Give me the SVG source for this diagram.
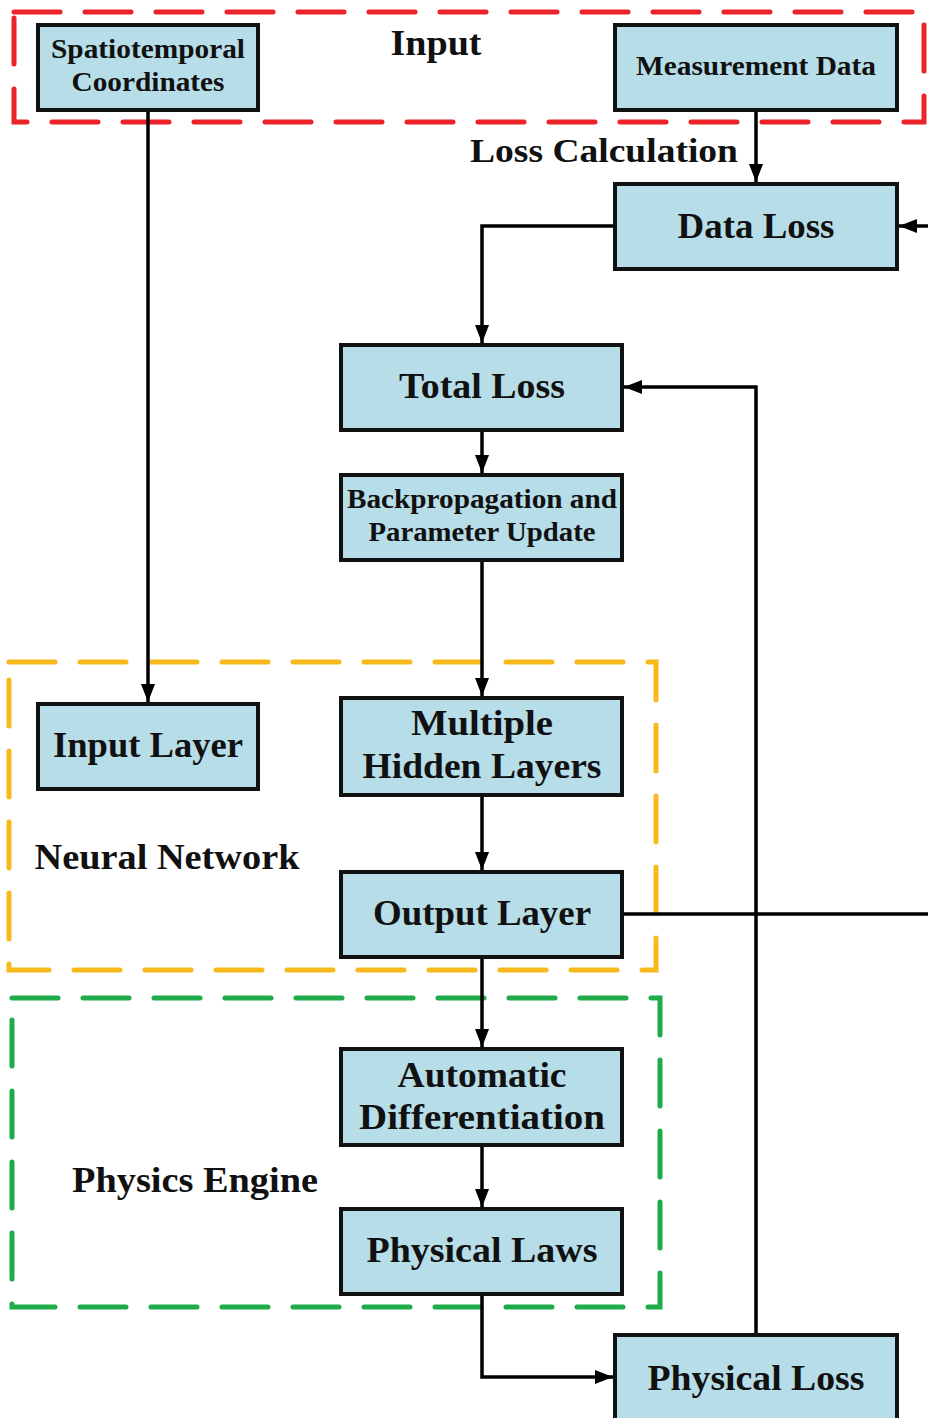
<svg xmlns="http://www.w3.org/2000/svg" width="928" height="1418" viewBox="0 0 928 1418">
  <defs>
    <marker id="arrow" viewBox="0 0 18 14" refX="18" refY="7" markerWidth="18" markerHeight="14" markerUnits="userSpaceOnUse" orient="auto">
      <path d="M0,0 L18,7 L0,14 z" fill="#000"/>
    </marker>
    <style>
      .box { fill: #b7dde8; stroke: #111; stroke-width: 4; }
      .t { font-family: "Liberation Serif", "Times New Roman", serif; font-weight: bold; fill: #111; text-anchor: middle; }
      .lg { font-size: 36px; }
      .sm { font-size: 27px; }
      .grp { fill: none; stroke-width: 5; stroke-dasharray: 46 25; stroke-linecap: round; }
      .edge { fill: none; stroke: #000; stroke-width: 3.5; }
    </style>
  </defs>
  <rect width="928" height="1418" fill="#fff"/>

  <!-- group frames -->
  <g id="frames">
    <rect class="grp" x="14" y="12" width="910" height="110" stroke="#ec2328"/>
    <rect class="grp" x="9" y="662" width="647" height="308" stroke="#f8b91c"/>
    <rect class="grp" x="12" y="998" width="648" height="309" stroke="#1fab4a"/>
  </g>

  <!-- frame labels -->
  <g id="labels">
    <text class="t lg" x="436" y="55" textLength="91" lengthAdjust="spacingAndGlyphs">Input</text>
    <text class="t" x="604" y="162" font-size="34" textLength="268" lengthAdjust="spacingAndGlyphs">Loss Calculation</text>
    <text class="t lg" x="167" y="869" textLength="265" lengthAdjust="spacingAndGlyphs">Neural Network</text>
    <text class="t lg" x="195" y="1192" textLength="246" lengthAdjust="spacingAndGlyphs">Physics Engine</text>
  </g>

  <!-- connectors -->
  <g id="connectors">
    <path class="edge" d="M148,110 V702" marker-end="url(#arrow)"/>
    <path class="edge" d="M756,110 V182" marker-end="url(#arrow)"/>
    <path class="edge" d="M615,226 H482 V343" marker-end="url(#arrow)"/>
    <path class="edge" d="M482,430 V473" marker-end="url(#arrow)"/>
    <path class="edge" d="M482,560 V696" marker-end="url(#arrow)"/>
    <path class="edge" d="M482,795 V870" marker-end="url(#arrow)"/>
    <path class="edge" d="M622,914 H928"/>
    <path class="edge" d="M928,226 H899" marker-end="url(#arrow)"/>
    <path class="edge" d="M482,957 V1047" marker-end="url(#arrow)"/>
    <path class="edge" d="M482,1145 V1207" marker-end="url(#arrow)"/>
    <path class="edge" d="M482,1294 V1377 H613" marker-end="url(#arrow)"/>
    <path class="edge" d="M756,1335 V387 H624" marker-end="url(#arrow)"/>
  </g>

  <!-- nodes -->
  <g id="spatiotemporal">
    <rect class="box" x="38" y="25" width="220" height="85"/>
    <text class="t sm" x="148" y="58" textLength="194" lengthAdjust="spacingAndGlyphs">Spatiotemporal</text>
    <text class="t sm" x="148" y="91" textLength="153" lengthAdjust="spacingAndGlyphs">Coordinates</text>
  </g>
  <g id="measurement">
    <rect class="box" x="615" y="25" width="282" height="85"/>
    <text class="t sm" x="756" y="75" textLength="240" lengthAdjust="spacingAndGlyphs">Measurement Data</text>
  </g>
  <g id="data-loss">
    <rect class="box" x="615" y="184" width="282" height="85"/>
    <text class="t lg" x="756" y="238" textLength="157" lengthAdjust="spacingAndGlyphs">Data Loss</text>
  </g>
  <g id="total-loss">
    <rect class="box" x="341" y="345" width="281" height="85"/>
    <text class="t lg" x="482" y="398" textLength="166" lengthAdjust="spacingAndGlyphs">Total Loss</text>
  </g>
  <g id="backprop">
    <rect class="box" x="341" y="475" width="281" height="85"/>
    <text class="t sm" x="482" y="508" textLength="270" lengthAdjust="spacingAndGlyphs">Backpropagation and</text>
    <text class="t sm" x="482" y="541" textLength="227" lengthAdjust="spacingAndGlyphs">Parameter Update</text>
  </g>
  <g id="input-layer">
    <rect class="box" x="38" y="704" width="220" height="85"/>
    <text class="t lg" x="148" y="757" textLength="190" lengthAdjust="spacingAndGlyphs">Input Layer</text>
  </g>
  <g id="hidden-layers">
    <rect class="box" x="341" y="698" width="281" height="97"/>
    <text class="t lg" x="482" y="735" textLength="142" lengthAdjust="spacingAndGlyphs">Multiple</text>
    <text class="t lg" x="482" y="778" textLength="239" lengthAdjust="spacingAndGlyphs">Hidden Layers</text>
  </g>
  <g id="output-layer">
    <rect class="box" x="341" y="872" width="281" height="85"/>
    <text class="t lg" x="482" y="925" textLength="218" lengthAdjust="spacingAndGlyphs">Output Layer</text>
  </g>
  <g id="autodiff">
    <rect class="box" x="341" y="1049" width="281" height="96"/>
    <text class="t lg" x="482" y="1087" textLength="169" lengthAdjust="spacingAndGlyphs">Automatic</text>
    <text class="t lg" x="482" y="1129" textLength="246" lengthAdjust="spacingAndGlyphs">Differentiation</text>
  </g>
  <g id="physical-laws">
    <rect class="box" x="341" y="1209" width="281" height="85"/>
    <text class="t lg" x="482" y="1262" textLength="231" lengthAdjust="spacingAndGlyphs">Physical Laws</text>
  </g>
  <g id="physical-loss">
    <rect class="box" x="615" y="1335" width="282" height="88"/>
    <text class="t lg" x="756" y="1390" textLength="217" lengthAdjust="spacingAndGlyphs">Physical Loss</text>
  </g>
</svg>
